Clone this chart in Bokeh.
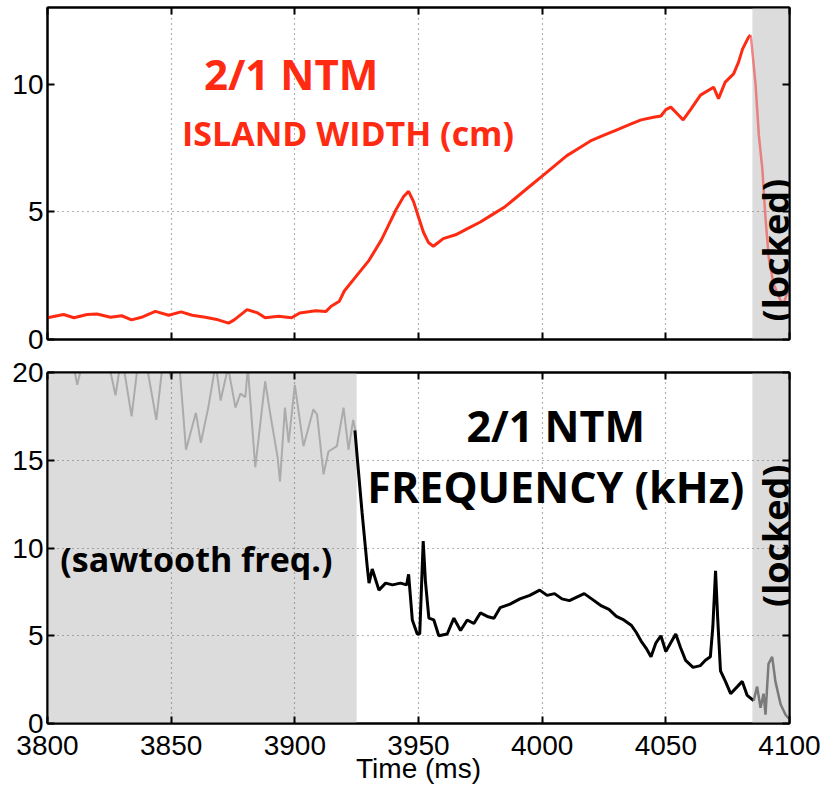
from bokeh.plotting import figure
from bokeh.layouts import column
from bokeh.models import Label, LinearAxis, Range1d, FixedTicker, ColumnDataSource
from bokeh.embed import file_html
from bokeh.resources import INLINE

# ---------------- data ----------------
x_ticks = [3800, 3850, 3900, 3950, 4000, 4050, 4100]
top_y_ticks = [0, 5, 10]
bot_y_ticks = [0, 5, 10, 15, 20]

# shaded regions (ms)
sawtooth_region = [3800, 3925]
locked_region = [4085, 4100]

# 2/1 NTM island width (cm), before locking
width_t = [3800, 3806.5, 3810.7, 3816, 3820, 3825.5, 3830, 3834, 3838, 3843.6,
           3849, 3854, 3858.5, 3863.8, 3869, 3873.2, 3875.5, 3880.7, 3885, 3888,
           3893.4, 3898.7, 3902, 3908.4, 3912.6, 3914.7, 3918, 3920, 3925, 3930,
           3935, 3938, 3941, 3944, 3946, 3948, 3950, 3952, 3954, 3956, 3958,
           3960, 3965, 3970, 3975, 3980, 3985, 3990, 3995, 4000, 4005, 4010,
           4015, 4020, 4025, 4030, 4035, 4040, 4045, 4048, 4050, 4052, 4055,
           4057, 4060, 4064, 4069.3, 4071.3, 4074, 4077.4, 4079.4, 4081, 4083.4,
           4084.2]
width_cm = [0.85, 0.98, 0.85, 0.98, 1.0, 0.87, 0.93, 0.77, 0.87, 1.1,
            0.95, 1.08, 0.95, 0.87, 0.77, 0.64, 0.77, 1.17, 1.04, 0.85,
            0.91, 0.85, 1.04, 1.13, 1.1, 1.3, 1.5, 1.9, 2.5, 3.1,
            3.9, 4.5, 5.1, 5.6, 5.8, 5.4, 4.8, 4.2, 3.8, 3.65, 3.8,
            3.95, 4.1, 4.35, 4.6, 4.9, 5.2, 5.6, 6.0, 6.4, 6.8, 7.2,
            7.5, 7.8, 8.0, 8.2, 8.4, 8.6, 8.7, 8.75, 9.0, 9.1, 8.8,
            8.6, 9.0, 9.57, 9.88, 9.43, 10.08, 10.4, 10.86, 11.37, 11.83,
            11.92]
# island width after locking
locked_width_t = [4084.2, 4084.5, 4086.3, 4087.6, 4089, 4090.3, 4091.6, 4093.5,
                  4096.4, 4097.6, 4099.1, 4100]
locked_width_cm = [11.92, 11.76, 9.96, 8.0, 6.7, 4.75, 3.2, 2.2,
                   1.52, 1.4, 1.83, 1.9]

# sawtooth frequency (kHz)
saw_t = [3800, 3803, 3806, 3809, 3812, 3815, 3818, 3821, 3824, 3827.5,
         3830, 3834, 3837, 3840, 3844, 3847, 3850, 3853, 3856, 3860,
         3862, 3865, 3868, 3870, 3873, 3876, 3878, 3880, 3881, 3884,
         3888, 3890, 3893, 3894, 3896, 3897.5, 3900, 3903.5, 3907.5, 3909,
         3911.6, 3913.6, 3917, 3919.7, 3921.7, 3923.6, 3924.5]
saw_khz = [21.5, 22, 21, 21.5, 19.3, 21, 22, 21.5, 21, 18.7,
           21, 17.5, 21, 20.5, 17.3, 21, 19.7, 21, 15.6, 17.7,
           16.0, 18, 20.5, 18.4, 20.3, 18, 18.8, 18.6, 20.3, 14.6,
           19.5, 17.7, 15.2, 13.8, 18, 16, 19.3, 15.8, 17.9, 17.6,
           14.2, 15.5, 15.8, 18, 15.6, 17.3, 16.7]

# 2/1 NTM frequency (kHz)
ntm_t = [3924.3, 3925.2, 3927.2, 3929.3, 3930, 3931.3, 3934, 3936.7, 3939.5, 3942.7,
         3945.2, 3946, 3947.5, 3949.5, 3950.5, 3951.9, 3952.8, 3954.2, 3956.2, 3958.2,
         3961.6, 3964.3, 3967, 3969.7, 3972.4, 3975, 3977.8, 3980.5, 3983, 3987,
         3991, 3995, 3999, 4002, 4005, 4008, 4011, 4014, 4017, 4020,
         4024, 4027, 4030, 4033, 4036, 4038, 4040, 4042, 4044, 4046,
         4048, 4050, 4052, 4054, 4056, 4058, 4061, 4064, 4066, 4068,
         4069, 4070.1, 4071, 4072.1, 4074.1, 4076.2, 4078.9, 4080.9, 4082.9, 4085.5]
ntm_khz = [16.7, 15.2, 12.0, 8.9, 8.0, 8.8, 7.6, 8.0, 7.9, 8.0,
           7.9, 8.5, 5.9, 5.1, 5.1, 10.4, 8.1, 6.0, 5.9, 5.0,
           5.1, 6.0, 5.3, 5.9, 5.7, 6.3, 6.1, 6.0, 6.6, 6.8,
           7.1, 7.3, 7.6, 7.3, 7.4, 7.1, 7.0, 7.2, 7.4, 7.1,
           6.7, 6.5, 6.1, 5.9, 5.6, 5.2, 4.7, 4.3, 3.8, 4.6,
           5.0, 4.1, 4.6, 5.1, 4.3, 3.6, 3.2, 3.3, 3.6, 3.8,
           5.5, 8.7, 5.9, 3.0, 2.4, 1.7, 2.1, 2.4, 1.6, 1.3]
# frequency after locking
locked_f_t = [4085.5, 4086.9, 4088.3, 4089.5, 4090.3, 4091.5, 4093, 4094.3, 4096.4, 4098.4, 4099.6]
locked_f_khz = [1.3, 2.1, 0.9, 1.7, 0.5, 3.4, 3.8, 2.4, 1.1, 0.5, 0.3]

# ---------------- styling helpers ----------------
TICK_FONT = "Liberation Sans"
ANN_FONT = "Open Sans"
SHADE = "#dcdcdc"
RED = "#ff2a12"

x_range = Range1d(3800, 4100)


def tick_axis(ax, ticks, labels):
    ax.ticker = FixedTicker(ticks=ticks)
    ax.major_tick_in = 7
    ax.major_tick_out = 0
    ax.minor_tick_line_color = None
    ax.axis_line_width = 2
    ax.major_tick_line_width = 2
    ax.major_label_text_font = TICK_FONT
    if labels:
        ax.major_label_text_font_size = "28px"
        ax.major_label_text_color = "black"
    else:
        ax.major_label_text_font_size = "1px"
        ax.major_label_text_color = None
        ax.major_label_standoff = 0


def style(p, yticks, show_x_labels):
    p.outline_line_color = "black"
    p.outline_line_width = 2
    p.outline_line_alpha = 1
    bottom_ax = p.below[0]
    left_ax = p.left[0]
    tick_axis(bottom_ax, x_ticks, show_x_labels)
    tick_axis(left_ax, yticks, True)
    left_ax.major_label_standoff = 4
    top = LinearAxis()
    right = LinearAxis()
    tick_axis(top, x_ticks, False)
    tick_axis(right, yticks, False)
    p.add_layout(top, "above")
    p.add_layout(right, "right")
    p.xgrid.ticker = FixedTicker(ticks=x_ticks[1:-1])
    p.ygrid.ticker = FixedTicker(ticks=yticks[1:-1])
    for g in (p.xgrid, p.ygrid):
        g.grid_line_color = "#666666"
        g.grid_line_dash = "1 4"
        g.grid_line_width = 1.2
        g.grid_line_alpha = 1
    return bottom_ax


# ---------------- top panel: island width ----------------
p1 = figure(frame_width=742, frame_height=332, x_range=x_range, y_range=Range1d(0, 13),
            output_backend="svg", toolbar_location=None,
            min_border_left=47, min_border_right=34, min_border_top=7, min_border_bottom=18)
style(p1, top_y_ticks, False)

shade_top = ColumnDataSource(dict(left=[locked_region[0]], right=[locked_region[1]]))
p1.quad(left="left", right="right", bottom=0, top=13, source=shade_top,
        fill_color=SHADE, line_color=None, level="image")
p1.line(width_t, width_cm, line_color=RED, line_width=3)
p1.line(locked_width_t, locked_width_cm, line_color="#ee6060", line_alpha=0.75, line_width=2.5)

p1.add_layout(Label(x=3898.5, y=10.4, text="2/1 NTM", text_font=ANN_FONT, text_font_style="bold",
                    text_font_size="42px", text_color=RED, text_align="center", text_baseline="middle"))
p1.add_layout(Label(x=3921.5, y=8.1, text="ISLAND WIDTH (cm)", text_font=ANN_FONT,
                    text_font_style="bold", text_font_size="34px", text_color=RED,
                    text_align="center", text_baseline="middle"))
p1.add_layout(Label(x=4094.3, y=3.5, text="(locked)", text_font=ANN_FONT, text_font_style="bold",
                    text_font_size="36px", text_color="black", text_align="center",
                    text_baseline="middle", angle=90, angle_units="deg"))

# ---------------- bottom panel: frequency ----------------
p2 = figure(frame_width=742, frame_height=351, x_range=x_range, y_range=Range1d(0, 20),
            output_backend="svg", toolbar_location=None,
            min_border_left=47, min_border_right=34, min_border_top=15, min_border_bottom=10)
xax = style(p2, bot_y_ticks, True)
xax.major_label_standoff = 12
xax.axis_label = "Time (ms)"
xax.axis_label_text_font = TICK_FONT
xax.axis_label_text_font_style = "normal"
xax.axis_label_text_font_size = "28px"
xax.axis_label_text_color = "black"
xax.axis_label_standoff = -5

shade_bot = ColumnDataSource(dict(left=[sawtooth_region[0], locked_region[0]],
                                  right=[sawtooth_region[1], locked_region[1]]))
p2.quad(left="left", right="right", bottom=0, top=20, source=shade_bot,
        fill_color=SHADE, line_color=None, level="image")
p2.line(saw_t, saw_khz, line_color="#ababab", line_width=2)
p2.line(ntm_t, ntm_khz, line_color="black", line_width=3)
p2.line(locked_f_t, locked_f_khz, line_color="#7a7a7a", line_width=2.5)

p2.add_layout(Label(x=4005.5, y=17.0, text="2/1 NTM", text_font=ANN_FONT, text_font_style="bold",
                    text_font_size="43px", text_color="black", text_align="center",
                    text_baseline="middle"))
p2.add_layout(Label(x=4005.5, y=13.5, text="FREQUENCY (kHz)", text_font=ANN_FONT,
                    text_font_style="bold", text_font_size="43px", text_color="black",
                    text_align="center", text_baseline="middle"))
p2.add_layout(Label(x=3860.2, y=9.4, text="(sawtooth freq.)", text_font=ANN_FONT,
                    text_font_style="bold", text_font_size="34px", text_color="black",
                    text_align="center", text_baseline="middle"))
p2.add_layout(Label(x=4094.3, y=10.7, text="(locked)", text_font=ANN_FONT, text_font_style="bold",
                    text_font_size="36px", text_color="black", text_align="center",
                    text_baseline="middle", angle=90, angle_units="deg"))

layout = column(p1, p2)
open("out.html", "w").write(file_html(layout, INLINE))
